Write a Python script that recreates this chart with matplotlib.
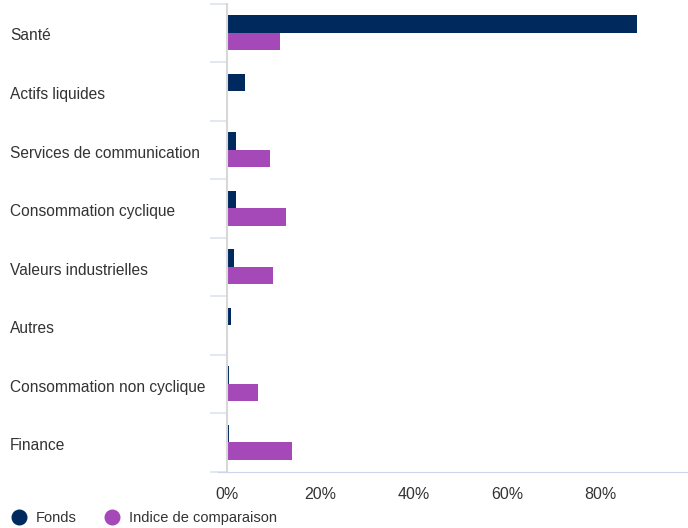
import matplotlib.pyplot as plt
import numpy as np
from matplotlib.lines import Line2D

plt.rcParams['font.family'] = ['Liberation Sans', 'DejaVu Sans']

categories = ["Santé", "Actifs liquides", "Services de communication",
              "Consommation cyclique", "Valeurs industrielles", "Autres",
              "Consommation non cyclique", "Finance"]
fonds = [87.8, 3.9, 1.9, 1.9, 1.5, 0.9, 0.4, 0.4]
indice = [11.3, 0.0, 9.2, 12.6, 9.8, 0.0, 6.6, 13.9]
xticks = [0, 20, 40, 60, 80]

navy = "#002A5E"
purple = "#A548B8"
txt = "#333333"

fig = plt.figure(figsize=(6.88, 5.28), dpi=100)
ax = fig.add_axes([227/688, 1 - 471.5/528, 1 - 227/688, 468/528])

y = np.arange(len(categories))
h = 0.3
ax.barh(y - h/2, fonds, height=h, color=navy)
ax.barh(y + h/2, indice, height=h, color=purple)

ax.set_ylim(len(categories) - 0.5, -0.5)
ax.set_xlim(0, 98.7)

ax.set_xticks(xticks)
ax.set_xticklabels([f"{v}%" for v in xticks], color=txt, fontsize=11.5)
ax.tick_params(axis='x', length=0, pad=11)

ax.set_yticks(np.arange(len(categories) + 1) - 0.5)
ax.set_yticklabels([])
ax.tick_params(axis='y', length=12, color="#dde3f0", width=1.2)
for i, c in enumerate(categories):
    fig.text(10/688, 1 - (3.5 + 58.6*(i + 0.5) + 3)/528, c,
             ha='left', va='center', fontsize=11.2, color=txt)

for s in ['top', 'right']:
    ax.spines[s].set_visible(False)
ax.spines['left'].set_color("#d8d8d8")
ax.spines['left'].set_linewidth(1.5)
ax.spines['bottom'].set_color("#ccd6eb")
ax.spines['bottom'].set_bounds(-1.9, 98.7)

handles = [Line2D([], [], marker='o', linestyle='', color=navy, markersize=10.5),
           Line2D([], [], marker='o', linestyle='', color=purple, markersize=10.5)]
fig.legend(handles, ["Fonds", "Indice de comparaison"], loc='lower left',
           bbox_to_anchor=(-0.008, -0.02), ncol=2, frameon=False, fontsize=10.5,
           labelcolor=txt, handletextpad=0.35, columnspacing=1.6, handlelength=1.6)

fig.savefig("out.png", dpi=100)
